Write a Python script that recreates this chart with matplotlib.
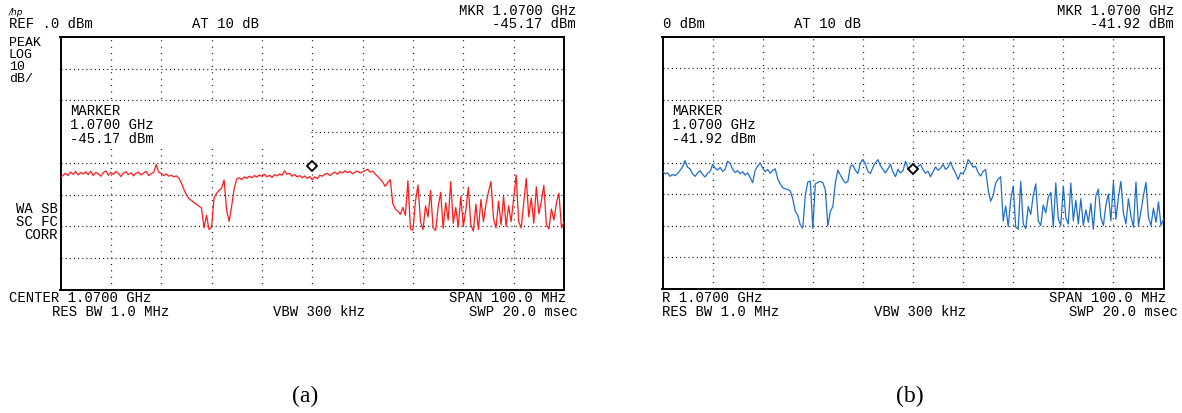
import numpy as np
import matplotlib
matplotlib.use("Agg")
import matplotlib.pyplot as plt
from matplotlib.patches import Rectangle

# ---------------- data ----------------
center_mhz = 1070.0
span_mhz = 100.0
ref_dbm = 0.0
db_per_div = 10.0

# (a) red trace, dBm, equally spaced over the span
trace_a = [
    -44.6, -43.8, -43.2, -43.9, -42.8, -43.5, -42.6, -43.7, -42.9, -43.4,
    -42.7, -43.6, -42.5, -43.9, -42.9, -43.3, -44.1, -43.0, -42.4, -43.8,
    -42.9, -43.5, -42.6, -43.2, -44.2, -43.1, -42.7, -43.6, -43.0, -44.0,
    -43.2, -42.8, -43.7, -43.1, -42.6, -43.9, -43.3, -42.9, -40.4, -42.8,
    -43.2, -43.9, -43.4, -44.1, -43.8, -44.3, -44.0, -44.7, -46.2, -48.3,
    -50.0, -51.2, -51.8, -52.4, -53.0, -53.6, -54.2, -60.5, -56.5, -61.0,
    -60.3, -51.0, -49.5, -48.6, -47.8, -45.3, -55.0, -58.4, -53.5, -48.0,
    -45.0, -44.6, -45.2, -44.3, -44.8, -44.1, -44.6, -43.9, -44.4, -43.7,
    -44.2, -43.5, -44.3, -43.8, -44.5, -43.6, -44.0, -43.4, -43.8, -42.4,
    -43.5, -43.2, -44.1, -43.6, -44.3, -43.9, -44.6, -44.0, -44.8, -44.2,
    -45.2, -44.3, -44.9, -43.8, -44.1, -43.5,
    -43.2, -43.9, -43.3, -42.8, -43.5, -42.6, -43.1, -42.4, -43.0, -42.6,
    -43.3, -42.8, -42.5, -43.1, -42.7, -42.3, -41.9, -42.8, -42.5, -43.4,
    -44.2, -45.0, -46.0, -47.3, -46.1, -45.2, -52.8, -54.5, -55.2, -56.2,
    -54.0, -56.5, -45.5, -60.8, -61.2, -52.0, -46.9, -58.5, -61.0, -53.5,
    -57.0, -48.6, -60.5, -61.3, -54.0, -49.2, -60.6, -52.5, -58.0, -45.8,
    -59.0, -54.0, -60.2, -50.5, -60.0, -55.0, -47.6, -59.5, -61.5, -53.0,
    -61.0, -51.5, -58.5, -53.0, -49.0, -45.8, -57.5, -60.5, -52.0, -59.5,
    -50.5, -60.0, -53.5, -58.5, -51.0, -43.7, -58.5, -60.5, -52.5, -44.8,
    -57.0, -51.0, -59.0, -47.5, -56.0, -52.0, -47.0, -59.5, -60.8, -54.5,
    -58.0, -52.5, -49.5, -60.5, -58.5,
]

# (b) blue trace, dBm, equally spaced over the span
trace_b = [
    -42.8, -43.6, -43.3, -44.4, -43.8, -44.2, -43.5, -42.5, -41.4, -39.4,
    -41.5, -42.0, -43.6, -44.4, -43.3, -42.6, -43.8, -44.6, -43.4, -42.9,
    -40.6, -41.8, -42.4, -41.6, -42.8, -42.2, -39.6, -40.3, -42.1, -43.2,
    -42.6, -43.6, -42.9, -44.0, -43.3, -44.8, -46.4, -42.4, -41.2, -40.1,
    -41.8, -42.9, -42.2, -43.4, -42.5, -42.0, -45.2, -46.8, -48.0, -48.4,
    -48.5, -49.0, -51.5, -55.5, -56.8, -59.8, -60.8, -50.5, -46.2, -45.9,
    -61.0, -46.8, -46.3, -46.0, -46.4, -48.6, -60.2, -55.5, -54.0, -46.5,
    -42.4, -44.0, -45.4, -46.5, -46.0, -41.2, -40.8, -42.5, -43.5, -40.2,
    -39.0, -40.5, -42.8, -43.5, -41.5, -40.1, -39.1, -41.0, -42.2, -43.3,
    -42.0, -40.6, -43.0, -44.5, -42.2, -43.3, -42.6, -39.6, -41.8, -42.7,
    -41.9, -42.6, -41.3, -40.6, -42.3, -43.4,
    -42.8, -44.5, -43.0, -41.4, -42.5, -41.8, -40.6, -42.2, -41.5, -39.8,
    -42.0, -43.3, -45.4, -43.3, -43.5, -42.0, -39.1, -40.2, -41.5, -41.2,
    -43.2, -44.3, -42.8, -42.2, -48.6, -52.3, -50.5, -46.5, -45.3, -44.5,
    -58.6, -53.8, -60.3, -52.0, -47.5, -60.5, -61.2, -46.0, -59.5, -61.0,
    -54.0, -56.5, -50.5, -46.8, -58.5, -60.0, -53.5, -56.0, -51.0, -49.5,
    -60.5, -46.5, -58.0, -60.0, -47.5, -57.5, -59.5, -46.5, -58.5, -52.0,
    -59.5, -51.5, -60.0, -55.0, -59.0, -53.0, -61.2, -50.5, -48.5, -57.5,
    -60.0, -53.5, -50.0, -58.5, -46.0, -58.0, -51.0, -46.0, -56.0, -59.5,
    -51.5, -57.0, -60.5, -46.2, -60.0, -55.5, -50.5, -46.3, -57.5, -60.0,
    -54.5, -59.0, -52.5, -60.0, -58.0,
]

marker_dbm = [-41.0, -42.1]          # where the diamond is drawn
marker_readout = ["-45.17 dBm", "-41.92 dBm"]
ref_labels = ["REF .0 dBm", "0 dBm"]
center_labels = ["CENTER 1.0700 GHz", "R 1.0700 GHz"]
panel_labels = ["(a)", "(b)"]
trace_colors = ["#ff1a1a", "#1f6fc6"]

# ---------------- figure ----------------
W, H = 1182, 414
fig = plt.figure(figsize=(W / 100, H / 100), dpi=100)
fig.patch.set_facecolor("white")
plt.rcParams["lines.scale_dashes"] = False

MONO = "Liberation Mono"
FS = 10

panels = [
    dict(x0=60.5, x1=564.0, y0=38.0, y1=290.5),
    dict(x0=662.5, x1=1163.5, y0=37.5, y1=289.5),
]

freq_lo = center_mhz - span_mhz / 2
freq_hi = center_mhz + span_mhz / 2
bottom_db = ref_dbm - 8 * db_per_div

for i, (p, tr) in enumerate(zip(panels, [trace_a, trace_b])):
    ax = fig.add_axes([p["x0"] / W, (H - p["y1"]) / H,
                       (p["x1"] - p["x0"]) / W, (p["y1"] - p["y0"]) / H])
    ax.set_xlim(freq_lo, freq_hi)
    ax.set_ylim(bottom_db, ref_dbm)
    for s in ax.spines.values():
        s.set_linewidth(1.4)
        s.set_color("black")
    ax.set_xticks(np.arange(freq_lo + 10, freq_hi, 10))
    ax.set_yticks(np.arange(bottom_db + 10, ref_dbm, 10))
    ax.tick_params(length=0, labelbottom=False, labelleft=False)
    ax.set_axisbelow(True)
    ax.xaxis.grid(True, color="black", linewidth=0.9, linestyle=(0, (0.7, 3.9)))
    ax.yaxis.grid(True, color="black", linewidth=0.9, linestyle=(0, (0.7, 2.3)))

    # blank area of the marker annotation block
    px_per_mhz = (p["x1"] - p["x0"]) / span_mhz
    px_per_db = (p["y1"] - p["y0"]) / (ref_dbm - bottom_db)
    fx = freq_lo + (309 - 60.5) / px_per_mhz
    ya = ref_dbm - (103 - 38) / px_per_db
    yb = ref_dbm - (150 - 38) / px_per_db
    ax.add_patch(Rectangle((freq_lo + 0.3, yb), fx - freq_lo - 0.3, ya - yb,
                           facecolor="white", edgecolor="none", zorder=1))

    freqs = np.linspace(freq_lo, freq_hi, len(tr))
    ax.plot(freqs, tr, color=trace_colors[i], linewidth=0.9, zorder=3,
            clip_on=True)
    ax.plot([center_mhz], [marker_dbm[i]], marker="D", markersize=5.5,
            markerfacecolor="white", markeredgecolor="black",
            markeredgewidth=1.3, zorder=4, clip_on=False)

# ---------------- text overlay (pixel coordinates) ----------------
tx = fig.add_axes([0, 0, 1, 1], zorder=10)
tx.set_xlim(0, W)
tx.set_ylim(H, 0)
tx.axis("off")


def t(s, x, y, ha="left", fs=FS):
    tx.text(x, y, s, ha=ha, va="baseline", fontsize=fs, family=MONO,
            color="black")


# panel (a)
tx.text(9, 15, "/hp", ha="left", va="baseline", fontsize=6.5,
        style="italic", family="DejaVu Sans", color="black")
t(ref_labels[0], 9, 28.5)
t("AT 10 dB", 192, 28.5)
t("MKR 1.0700 GHz", 576, 15, "right")
t(marker_readout[0], 576, 28.5, "right")
t("PEAK", 9, 45.5, fs=9.5)
t("LOG", 9, 57.5, fs=9.5)
t("10", 9, 70.5, fs=9.5)
t("dB/", 9, 82.5, fs=9.5)
t("MARKER", 70, 115)
t("1.0700 GHz", 70, 129)
t(marker_readout[0], 70, 143)
t("WA SB", 58, 213, "right")
t("SC FC", 58, 226, "right")
t("CORR", 58, 239, "right")
t(center_labels[0], 9, 302)
t("SPAN 100.0 MHz", 566, 302, "right")
t("RES BW 1.0 MHz", 52, 316)
t("VBW 300 kHz", 273, 316)
t("SWP 20.0 msec", 578, 316, "right")

# panel (b)
t(ref_labels[1], 663, 28.5)
t("AT 10 dB", 794, 28.5)
t("MKR 1.0700 GHz", 1174, 15, "right")
t(marker_readout[1], 1174, 28.5, "right")
t("MARKER", 672, 115)
t("1.0700 GHz", 672, 129)
t(marker_readout[1], 672, 143)
t(center_labels[1], 662, 302)
t("SPAN 100.0 MHz", 1166, 302, "right")
t("RES BW 1.0 MHz", 662, 316)
t("VBW 300 kHz", 874, 316)
t("SWP 20.0 msec", 1178, 316, "right")

for lab, xc in zip(panel_labels, [305, 910]):
    tx.text(xc, 402, lab, ha="center", va="baseline", fontsize=17,
            family="Liberation Serif", color="black")

fig.savefig("out.png", dpi=100, facecolor="white")
